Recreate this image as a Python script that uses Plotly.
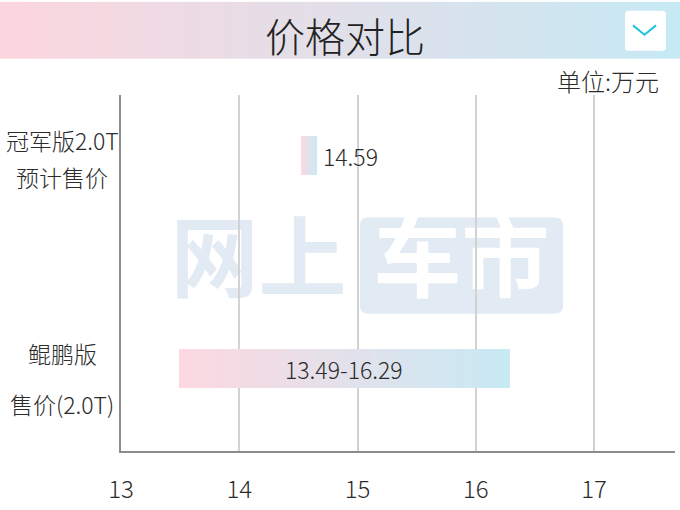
import plotly.graph_objects as go

# ---- data ----
categories = ["鲲鹏版<br>售价(2.0T)", "冠军版2.0T<br>预计售价"]
range_low = [13.49]
range_high = [16.29]
range_label = ["13.49-16.29"]
est_price = [14.59]
est_label = ["14.59"]
x_ticks = [13, 14, 15, 16, 17]
title_text = "价格对比"
unit_text = "单位:万元"

# ---- layout geometry (pixels) ----
W, H = 680, 510
ML, MR, MT, MB = 121, 5, 95, 52
PW, PH = W - ML - MR, H - MT - MB
FONT = "Noto Sans CJK SC"


def px(x):
    return (x - ML) / PW


def py(y):
    return (H - MB - y) / PH


def lerp_color(c1, c2, t):
    return "rgb(%d,%d,%d)" % tuple(round(a + (b - a) * t) for a, b in zip(c1, c2))


PINK = (253, 216, 224)
BLUE = (200, 234, 245)
N = 60
BAR_W = 0.184
EST_HALF = 0.07

fig = go.Figure()

# gradient range bar (鲲鹏版)
lo, hi = range_low[0], range_high[0]
seg = (hi - lo) / N
fig.add_trace(go.Bar(
    orientation="h",
    y=[0] * N,
    base=[lo + i * seg for i in range(N)],
    x=[seg * 1.02] * N,
    width=BAR_W,
    marker=dict(color=[lerp_color(PINK, BLUE, (i + 0.5) / N) for i in range(N)], line=dict(width=0)),
    hoverinfo="skip", showlegend=False,
))

# gradient small bar (冠军版 estimate)
n2 = 8
s2 = 2 * EST_HALF / n2
fig.add_trace(go.Bar(
    orientation="h",
    y=[1] * n2,
    base=[est_price[0] - EST_HALF + i * s2 for i in range(n2)],
    x=[s2 * 1.02] * n2,
    width=BAR_W,
    marker=dict(color=[lerp_color(PINK, BLUE, (i + 0.5) / n2) for i in range(n2)], line=dict(width=0)),
    hoverinfo="skip", showlegend=False,
))

shapes = []
# banner gradient
NB = 85
for i in range(NB):
    x0 = W * i / NB
    x1 = W * (i + 1) / NB + 0.6
    shapes.append(dict(type="rect", xref="paper", yref="paper",
                       x0=px(x0), x1=px(x1), y0=py(58), y1=py(0),
                       fillcolor=lerp_color((252, 214, 222), (198, 233, 244), i / (NB - 1)),
                       line=dict(width=0), layer="above"))


def rounded_rect(x0, y0, x1, y1, r):
    return ("M {a},{b} L {c},{b} Q {x1p},{b} {x1p},{d} L {x1p},{e} Q {x1p},{f} {c},{f} "
            "L {a},{f} Q {x0p},{f} {x0p},{e} L {x0p},{d} Q {x0p},{b} {a},{b} Z").format(
        a=px(x0 + r), b=py(y0), c=px(x1 - r), d=py(y0 + r), e=py(y1 - r), f=py(y1),
        x0p=px(x0), x1p=px(x1))


# dropdown box
shapes.append(dict(type="path", xref="paper", yref="paper", path=rounded_rect(625, 9, 666, 50, 4),
                   fillcolor="white", line=dict(width=0), layer="above"))
shapes.append(dict(type="path", xref="paper", yref="paper",
                   path="M {},{} L {},{} L {},{}".format(px(633), py(24), px(644.5), py(33.5), px(656), py(24)),
                   line=dict(color="#1ec3de", width=2), layer="above"))

# watermark
WM = "#e2eaf4"
shapes.append(dict(type="path", xref="paper", yref="paper", path=rounded_rect(360, 220, 563, 318, 8),
                   fillcolor=WM, line=dict(width=0), layer="below"))
shapes.append(dict(type="rect", xref="paper", yref="paper", x0=px(165), x1=px(352), y0=py(318), y1=py(220),
                   fillcolor="rgba(0,0,0,0)", line=dict(width=0), layer="below",
                   label=dict(text="网上", font=dict(family=FONT, size=88, color=WM, weight="bold"),
                              textposition="middle center")))
shapes.append(dict(type="rect", xref="paper", yref="paper", x0=px(360), x1=px(563), y0=py(318), y1=py(220),
                   fillcolor="rgba(0,0,0,0)", line=dict(width=0), layer="below",
                   label=dict(text="车市", font=dict(family=FONT, size=88, color="white", weight="bold"),
                              textposition="middle center")))

TXT = "#2b2b2b"
annotations = [
    dict(text=title_text, xref="paper", yref="paper", x=px(345), y=py(34), showarrow=False,
         xanchor="center", yanchor="middle", font=dict(family=FONT, size=40, color="#222222", weight=300)),
    dict(text=unit_text, xref="paper", yref="paper", x=px(661), y=py(80), showarrow=False,
         xanchor="right", yanchor="middle", font=dict(family=FONT, size=24, color=TXT, weight=300)),
    dict(text=range_label[0], x=(lo + hi) / 2, y=0, xref="x", yref="y", showarrow=False,
         xanchor="center", yanchor="middle", font=dict(family=FONT, size=23, color=TXT, weight=300)),
    dict(text=est_label[0], x=est_price[0] + EST_HALF + 0.03, y=1, xref="x", yref="y", showarrow=False,
         xanchor="left", yanchor="middle", font=dict(family=FONT, size=23, color=TXT, weight=300)),
]
# category labels
label_pos = [(62, 358, 410), (62, 141, 179)]
for cat, (cx, y1, y2) in zip(categories, label_pos):
    lines = cat.split("<br>")
    for line, yy in zip(lines, (y1, y2)):
        annotations.append(dict(text=line, xref="paper", yref="paper", x=px(cx), y=py(yy), showarrow=False,
                                xanchor="center", yanchor="middle",
                                font=dict(family=FONT, size=23, color=TXT, weight=300)))

fig.update_layout(
    width=W, height=H,
    margin=dict(l=ML, r=MR, t=MT, b=MB),
    paper_bgcolor="white", plot_bgcolor="white",
    barmode="overlay", bargap=0,
    shapes=shapes, annotations=annotations,
    xaxis=dict(range=[13, 17.685], tickvals=x_ticks, ticktext=[str(t) for t in x_ticks],
               showgrid=True, gridcolor="#d2d2d2", gridwidth=1.5, zeroline=False,
               showline=True, linecolor="#8c8c8c", linewidth=1.5, ticks="",
               ticklabelstandoff=16, tickfont=dict(family=FONT, size=24, color=TXT, weight=300),
               fixedrange=True),
    yaxis=dict(range=[-0.387, 1.286], showticklabels=False, showgrid=False, zeroline=False,
               showline=True, linecolor="#8c8c8c", linewidth=1.5, ticks="", fixedrange=True),
)

fig.write_html("out.html", config={"displayModeBar": False},
               post_script="document.body.style.margin='0';document.body.style.padding='0';")
